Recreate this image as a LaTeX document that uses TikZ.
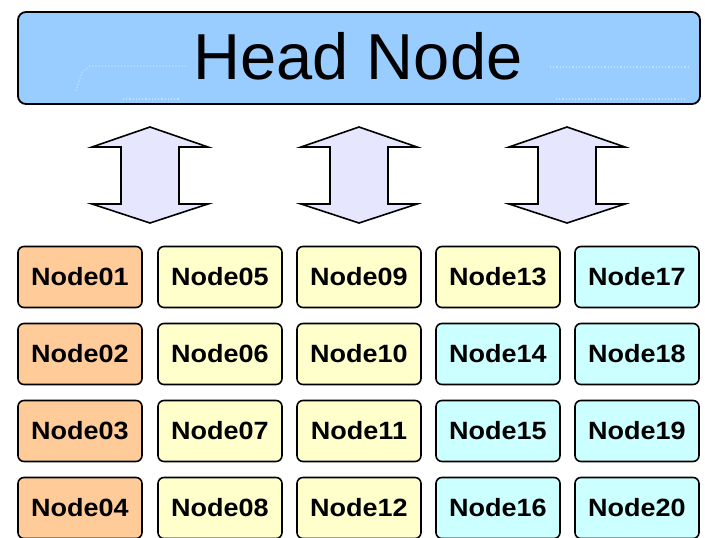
\documentclass[tikz,border=0pt]{standalone}
\usepackage{fontspec}
\setmainfont{Liberation Sans}
\definecolor{headblue}{HTML}{99CCFF}
\definecolor{dotblue}{HTML}{C4E2FF}
\definecolor{peach}{HTML}{FFCC99}
\definecolor{paleyellow}{HTML}{FFFFCC}
\definecolor{palecyan}{HTML}{CCFFFF}
\definecolor{lavender}{HTML}{E6E6FF}
\tikzset{
  cell/.style={draw=black, line width=1.6pt, rounded corners=6pt, minimum width=124pt, minimum height=61pt, inner sep=0pt, font=\fontsize{25}{25}\selectfont\bfseries},
  orangecell/.style={cell, fill=peach},
  yellowcell/.style={cell, fill=paleyellow},
  cyancell/.style={cell, fill=palecyan},
  dblarrow/.style={draw=black, line width=1.6pt, fill=lavender, line join=miter},
  faintdots/.style={dotblue, line width=1.2pt, dotted}
}
\newcommand{\cellname}[1]{\scalebox{1.08}[1]{#1}}
\begin{document}
\begin{tikzpicture}[x=1pt,y=-1pt]
\useasboundingbox (0,0) rectangle (705,538);
% head node
\node[draw=black, line width=1.8pt, fill=headblue, rounded corners=8pt, minimum width=682pt, minimum height=92pt, inner sep=0pt] (head) at (359,58) {};
\draw[faintdots] (76,91) -- (82,72) -- (90,66) -- (187,66);
\draw[faintdots] (123,99) -- (180,99);
\draw[faintdots] (550,67) -- (689,67);
\draw[faintdots] (556,99) -- (687,99);
\node[font=\fontsize{65}{65}\selectfont, inner sep=0pt] (headtext) at (358,56) {Head Node};
% double arrows
\foreach \c/\n in {150/a1, 359/a2, 567/a3}{
  \draw[dblarrow] (\c,127) -- (\c+58,147) -- (\c+29,147) -- (\c+29,204) -- (\c+58,204) -- (\c,223) -- (\c-58,204) -- (\c-29,204) -- (\c-29,147) -- (\c-58,147) -- cycle;
  \coordinate (\n) at (\c,175);
}
% grid of nodes
\node[orangecell] (n01) at (80,277) {\cellname{Node01}};
\node[orangecell] (n02) at (80,354) {\cellname{Node02}};
\node[orangecell] (n03) at (80,431) {\cellname{Node03}};
\node[orangecell] (n04) at (80,508) {\cellname{Node04}};
\node[yellowcell] (n05) at (220,277) {\cellname{Node05}};
\node[yellowcell] (n06) at (220,354) {\cellname{Node06}};
\node[yellowcell] (n07) at (220,431) {\cellname{Node07}};
\node[yellowcell] (n08) at (220,508) {\cellname{Node08}};
\node[yellowcell] (n09) at (359,277) {\cellname{Node09}};
\node[yellowcell] (n10) at (359,354) {\cellname{Node10}};
\node[yellowcell] (n11) at (359,431) {\cellname{Node11}};
\node[yellowcell] (n12) at (359,508) {\cellname{Node12}};
\node[yellowcell] (n13) at (498,277) {\cellname{Node13}};
\node[cyancell] (n14) at (498,354) {\cellname{Node14}};
\node[cyancell] (n15) at (498,431) {\cellname{Node15}};
\node[cyancell] (n16) at (498,508) {\cellname{Node16}};
\node[cyancell] (n17) at (637,277) {\cellname{Node17}};
\node[cyancell] (n18) at (637,354) {\cellname{Node18}};
\node[cyancell] (n19) at (637,431) {\cellname{Node19}};
\node[cyancell] (n20) at (637,508) {\cellname{Node20}};
\end{tikzpicture}
\end{document}
